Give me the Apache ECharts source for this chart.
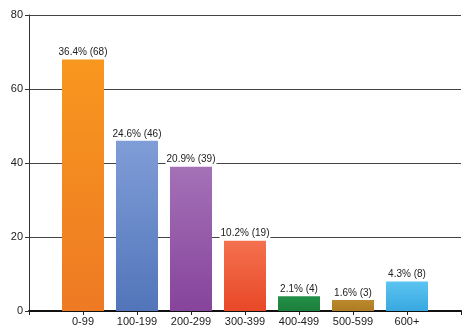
<!DOCTYPE html>
<html>
<head>
<meta charset="utf-8">
<script src="https://cdn.jsdelivr.net/npm/echarts@6/dist/echarts.min.js"></script>
<style>
  html, body { margin: 0; padding: 0; background: #fff; }
  #chart { width: 475px; height: 333px; }
</style>
</head>
<body>
<div id="chart"></div>
<script>
// Category points; blank entries pad both ends of the axis
const categories = ['', '0-99', '100-199', '200-299', '300-399', '400-499', '500-599', '600+', ''];
const counts = [null, 68, 46, 39, 19, 4, 3, 8, null];
const percents = [null, 36.4, 24.6, 20.9, 10.2, 2.1, 1.6, 4.3, null];
const yTicks = [0, 20, 40, 60, 80];

// top / bottom gradient colours for each bar
const barColors = [
  null,
  ['#f8971e', '#ee7a24'],
  ['#7f9dd7', '#5275ba'],
  ['#a471b7', '#86449b'],
  ['#f4714f', '#e84827'],
  ['#23904a', '#1b7f3a'],
  ['#bb8a2c', '#ad7c24'],
  ['#5cc4f1', '#38a8e0'],
  null
];

const chart = echarts.init(document.getElementById('chart'), null, { renderer: 'canvas' });

const seriesData = counts.map((v, i) => {
  if (v === null) return { value: null };
  return {
    value: v,
    itemStyle: {
      color: new echarts.graphic.LinearGradient(0, 0, 0, 1, [
        { offset: 0, color: barColors[i][0] },
        { offset: 1, color: barColors[i][1] }
      ])
    }
  };
});

chart.setOption({
  animation: false,
  backgroundColor: '#fff',
  grid: { left: 29, right: 14, top: 15, bottom: 22, containLabel: false },
  xAxis: {
    type: 'category',
    data: categories,
    boundaryGap: false,
    axisLine: { show: true, lineStyle: { color: '#111', width: 2 } },
    axisTick: { show: true, length: 4, lineStyle: { color: '#222', width: 1 } },
    axisLabel: {
      color: '#222',
      fontFamily: 'Liberation Sans, Arial, sans-serif',
      fontSize: 11,
      margin: 5,
      interval: 0
    },
    splitLine: { show: false }
  },
  yAxis: {
    type: 'value',
    min: yTicks[0],
    max: yTicks[yTicks.length - 1],
    interval: 20,
    axisLine: { show: true, lineStyle: { color: '#333', width: 1 } },
    axisTick: { show: true, length: 4, lineStyle: { color: '#333' } },
    axisLabel: {
      color: '#222',
      fontFamily: 'Liberation Sans, Arial, sans-serif',
      fontSize: 11,
      margin: 6
    },
    splitLine: { show: true, lineStyle: { color: '#444', width: 1 } }
  },
  series: [{
    type: 'bar',
    data: seriesData,
    barWidth: 42,
    label: {
      show: true,
      position: 'top',
      distance: 2,
      color: '#222',
      fontFamily: 'Liberation Sans, Arial, sans-serif',
      fontSize: 10,
      backgroundColor: '#fff',
      padding: [1, 1, 0, 1],
      formatter: p => percents[p.dataIndex] + '% (' + p.value + ')'
    }
  }]
});
</script>
</body>
</html>
